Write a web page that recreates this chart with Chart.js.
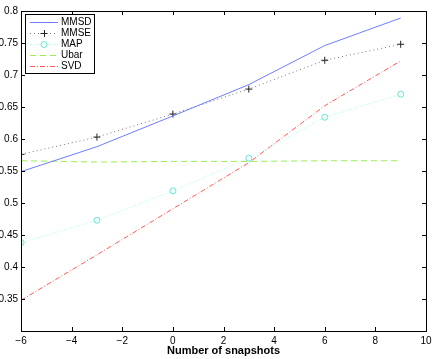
<!DOCTYPE html>
<html>
<head>
<meta charset="utf-8">
<script src="https://cdn.jsdelivr.net/npm/chart.js@4"></script>
<style>
  html, body { margin: 0; padding: 0; background: #fff; }
  #wrap { width: 436px; height: 359px; }
</style>
</head>
<body>
<div id="wrap"><canvas id="myChart"></canvas></div>
<script>
// snapshot counts on the x axis
const snapshots = [-6, -3, 0, 3, 6, 9];

// series values
const mmsd = [0.549, 0.588, 0.636, 0.685, 0.746, 0.789];
const mmse = [0.576, 0.603, 0.639, 0.678, 0.723, 0.748];
const map  = [0.438, 0.473, 0.519, 0.570, 0.634, 0.670];
const ubar = [0.566, 0.564, 0.565, 0.565, 0.566, 0.566];
const svd  = [0.348, 0.419, 0.491, 0.563, 0.652, 0.722];

const xTicks = [-6, -4, -2, 0, 2, 4, 6, 8, 10];
const yTicks = [0.35, 0.4, 0.45, 0.5, 0.55, 0.6, 0.65, 0.7, 0.75, 0.8];

const FONT = 'Liberation Sans, Arial, Helvetica, sans-serif';

const toPoints = (vals) => vals.map((v, i) => ({ x: snapshots[i], y: v }));

const fmt = (v) => {
  let s = String(Math.round(v * 100) / 100);
  return s.replace('-', '\u2212');
};

// frame, inward ticks (matlab style) and the legend box
const framePlugin = {
  id: 'frame',
  afterDraw: (chart) => {
    const ctx = chart.ctx;
    const { left, right, top, bottom } = chart.chartArea;
    const xs = chart.scales.x;
    const ys = chart.scales.y;
    ctx.save();
    ctx.strokeStyle = '#000';
    ctx.lineWidth = 1;
    ctx.strokeRect(Math.round(left) + 0.5, Math.round(top) + 0.5,
      Math.round(right - left), Math.round(bottom - top));
    const tl = 4;
    ctx.beginPath();
    xTicks.forEach(t => {
      const px = Math.round(xs.getPixelForValue(t)) + 0.5;
      ctx.moveTo(px, bottom); ctx.lineTo(px, bottom - tl);
      ctx.moveTo(px, top); ctx.lineTo(px, top + tl);
    });
    yTicks.forEach(t => {
      const py = Math.round(ys.getPixelForValue(t)) + 0.5;
      ctx.moveTo(left, py); ctx.lineTo(left + tl, py);
      ctx.moveTo(right, py); ctx.lineTo(right - tl, py);
    });
    ctx.stroke();

    // legend
    const bx = Math.round(left) + 4, by = Math.round(top) + 3, bw = 69, bh = 59;
    ctx.fillStyle = '#fff';
    ctx.fillRect(bx, by, bw, bh);
    ctx.strokeStyle = '#000';
    ctx.strokeRect(bx + 0.5, by + 0.5, bw, bh);
    ctx.font = '10px ' + FONT;
    ctx.textBaseline = 'middle';
    chart.data.datasets.forEach((ds, i) => {
      const y = Math.round(by + 8 + i * 11) + 0.5;
      ctx.save();
      ctx.strokeStyle = ds.borderColor;
      ctx.lineWidth = 1;
      ctx.setLineDash(ds.borderDash || []);
      ctx.beginPath();
      ctx.moveTo(bx + 5, y);
      ctx.lineTo(bx + 33, y);
      ctx.stroke();
      ctx.restore();
      if (ds.pointRadius > 0) {
        const mx = bx + 19;
        ctx.save();
        ctx.strokeStyle = ds.pointBorderColor;
        ctx.lineWidth = 1;
        ctx.beginPath();
        if (ds.pointStyle === 'cross') {
          ctx.moveTo(mx - 3.5, y); ctx.lineTo(mx + 3.5, y);
          ctx.moveTo(mx + 0.5, y - 3.5); ctx.lineTo(mx + 0.5, y + 3.5);
        } else {
          ctx.arc(mx, y, ds.pointRadius, 0, Math.PI * 2);
        }
        ctx.stroke();
        ctx.restore();
      }
      ctx.fillStyle = '#000';
      ctx.textAlign = 'left';
      ctx.fillText(ds.label, bx + 36, y);
    });
    ctx.restore();
  }
};

const ctx = document.getElementById('myChart').getContext('2d');

const chart = new Chart(ctx, {
  type: 'line',
  data: {
    datasets: [
      {
        label: 'MMSD', data: toPoints(mmsd),
        borderColor: '#6f7dff', borderWidth: 1, pointRadius: 0
      },
      {
        label: 'MMSE', data: toPoints(mmse),
        borderColor: '#777777', borderWidth: 1, borderDash: [1, 3],
        pointStyle: 'cross', pointRadius: 3.5, pointBorderColor: '#222', pointBorderWidth: 1
      },
      {
        label: 'MAP', data: toPoints(map),
        borderColor: '#a8fff0', borderWidth: 1, borderDash: [1, 2],
        pointStyle: 'circle', pointRadius: 3, pointBorderColor: '#66e6d6',
        pointBackgroundColor: 'rgba(0,0,0,0)', pointBorderWidth: 1
      },
      {
        label: 'Ubar', data: toPoints(ubar),
        borderColor: '#99ee55', borderWidth: 1, borderDash: [6, 4], pointRadius: 0
      },
      {
        label: 'SVD', data: toPoints(svd),
        borderColor: '#ff5a5a', borderWidth: 1, borderDash: [5, 2, 1, 2], pointRadius: 0
      }
    ]
  },
  options: {
    responsive: true,
    maintainAspectRatio: false,
    animation: false,
    layout: { padding: { top: 11, right: 10, left: 0, bottom: 0 } },
    plugins: {
      legend: { display: false },
      tooltip: { enabled: false }
    },
    scales: {
      x: {
        type: 'linear',
        min: -6,
        max: 10,
        afterBuildTicks: (s) => { s.ticks = xTicks.map(v => ({ value: v })); },
        afterFit: (s) => { s.height = 28; },
        grid: { display: false, drawTicks: false },
        border: { display: false },
        ticks: {
          padding: 4,
          color: '#000',
          font: { family: FONT, size: 10 },
          callback: (v) => fmt(v),
          maxRotation: 0
        },
        title: {
          display: true,
          text: 'Number of snapshots',
          color: '#000',
          font: { family: FONT, size: 11, weight: 'bold' },
          padding: { top: 0, bottom: 1 }
        }
      },
      y: {
        type: 'linear',
        min: 0.3,
        max: 0.8,
        afterBuildTicks: (s) => { s.ticks = yTicks.map(v => ({ value: v })); },
        afterFit: (s) => { s.width = 21; },
        grid: { display: false, drawTicks: false },
        border: { display: false },
        ticks: {
          padding: 3,
          color: '#000',
          font: { family: FONT, size: 10 },
          callback: (v) => fmt(v)
        }
      }
    }
  },
  plugins: [framePlugin]
});
</script>
</body>
</html>
